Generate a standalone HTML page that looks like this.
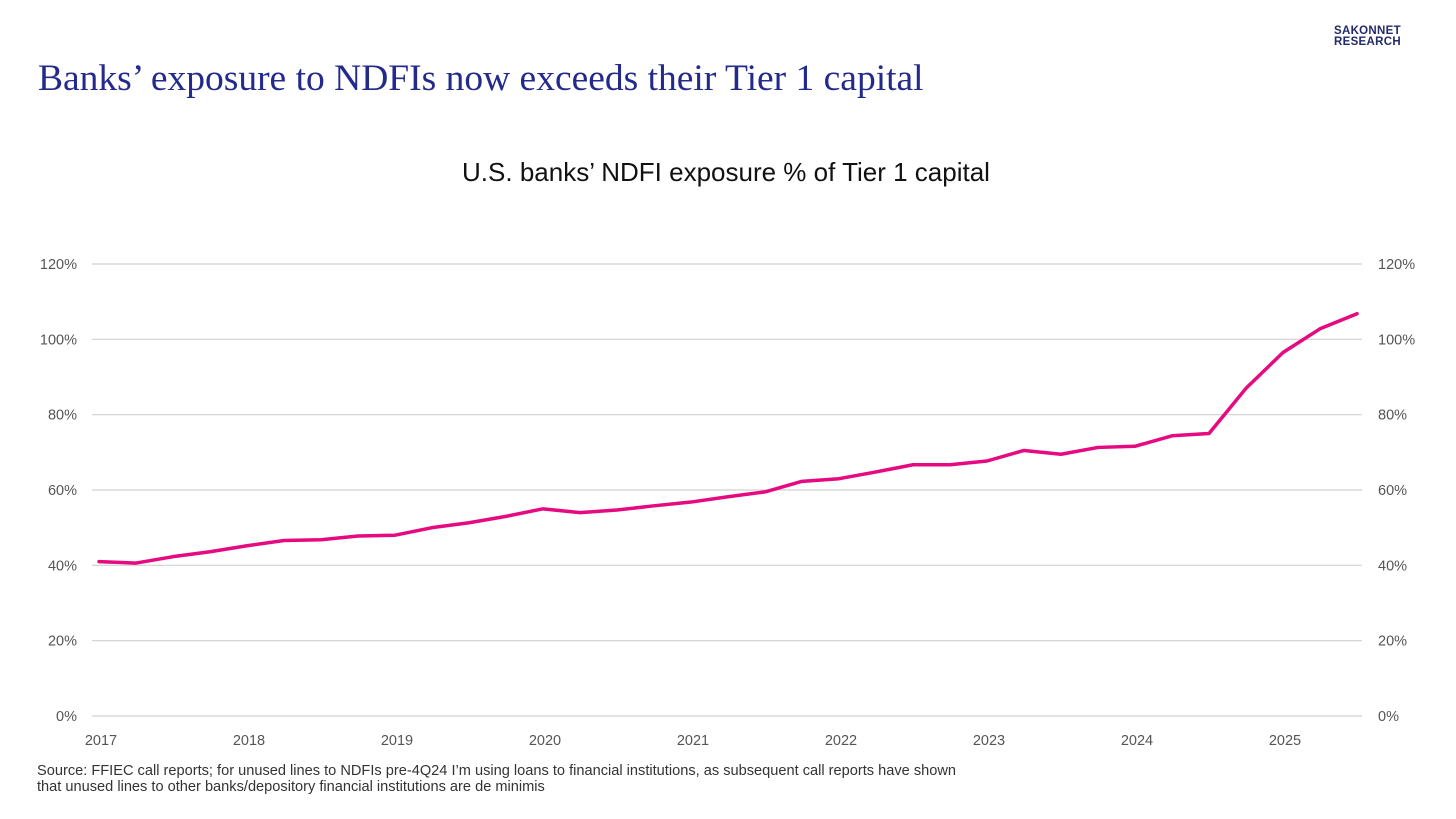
<!DOCTYPE html>
<html><head><meta charset="utf-8"><style>
body{margin:0;background:#fff;width:1456px;height:819px;overflow:hidden;position:relative;font-family:"Liberation Sans",sans-serif}
#title{position:absolute;left:38px;top:57px;font-family:"Liberation Serif",serif;font-size:37.5px;color:#232a8c;white-space:nowrap}
#logo{position:absolute;left:1334px;top:26px;font-size:11.5px;font-weight:bold;color:#232a6a;line-height:11px;letter-spacing:0.3px}
#ctitle{position:absolute;left:0;width:1452px;top:157px;text-align:center;font-size:26px;color:#111}
#src{position:absolute;left:37px;top:764px;font-size:14.6px;color:#333;line-height:15.5px}
svg{position:absolute;left:0;top:0}
</style></head><body>
<div id="title">Banks’ exposure to NDFIs now exceeds their Tier 1 capital</div>
<div id="logo">SAKONNET<br>RESEARCH</div>
<div id="ctitle">U.S. banks’ NDFI exposure % of Tier 1 capital</div>
<svg id="chart" width="1456" height="819"></svg>
<div id="src">Source: FFIEC call reports; for unused lines to NDFIs pre-4Q24 I’m using loans to financial institutions, as subsequent call reports have shown<br>that unused lines to other banks/depository financial institutions are de minimis</div>
<script>
const yTicks=[0,20,40,60,80,100,120];
const years=["2017","2018","2019","2020","2021","2022","2023","2024","2025"];
const values=[41,40.6,42.3,43.6,45.2,46.6,46.8,47.8,48,50,51.3,53,55,54,54.7,55.8,56.8,58.2,59.5,62.3,63,64.8,66.7,66.7,67.7,70.5,69.5,71.3,71.6,74.4,75,87,96.5,102.8,106.8];
const svg=document.getElementById('chart');const NS='http://www.w3.org/2000/svg';
const x0=99,dq=37,yb=716,ppu=(716-264)/120;
const X=i=>x0+i*dq, Y=v=>yb-v*ppu;
function mk(t,a,txt){const e=document.createElementNS(NS,t);for(const k in a)e.setAttribute(k,a[k]);if(txt!=null)e.textContent=txt;svg.appendChild(e);return e;}
yTicks.forEach(t=>{
 const g=mk('line',{x1:92,x2:1362,y1:Y(t),y2:Y(t),stroke:'#d0d0d0','stroke-width':1.2});
 
 
 const l=mk('text',{x:77,y:Y(t)+5,'text-anchor':'end','font-size':14.5,fill:'#555','font-family':'Liberation Sans, sans-serif'},t+'%');
 
 
 const r=mk('text',{x:1378,y:Y(t)+5,'font-size':14.5,fill:'#555','font-family':'Liberation Sans, sans-serif'},t+'%');
 
 
});
years.forEach((yr,k)=>{
 const t=mk('text',{x:X(k*4)+2,y:745,'text-anchor':'middle','font-size':14.5,fill:'#555','font-family':'Liberation Sans, sans-serif'},yr);
 
 
});
const p=mk('polyline',{points:values.map((v,i)=>X(i)+','+Y(v)).join(' '),fill:'none',stroke:'#e6097f','stroke-width':3.5,'stroke-linejoin':'round','stroke-linecap':'round'});


</script>
</body></html>
